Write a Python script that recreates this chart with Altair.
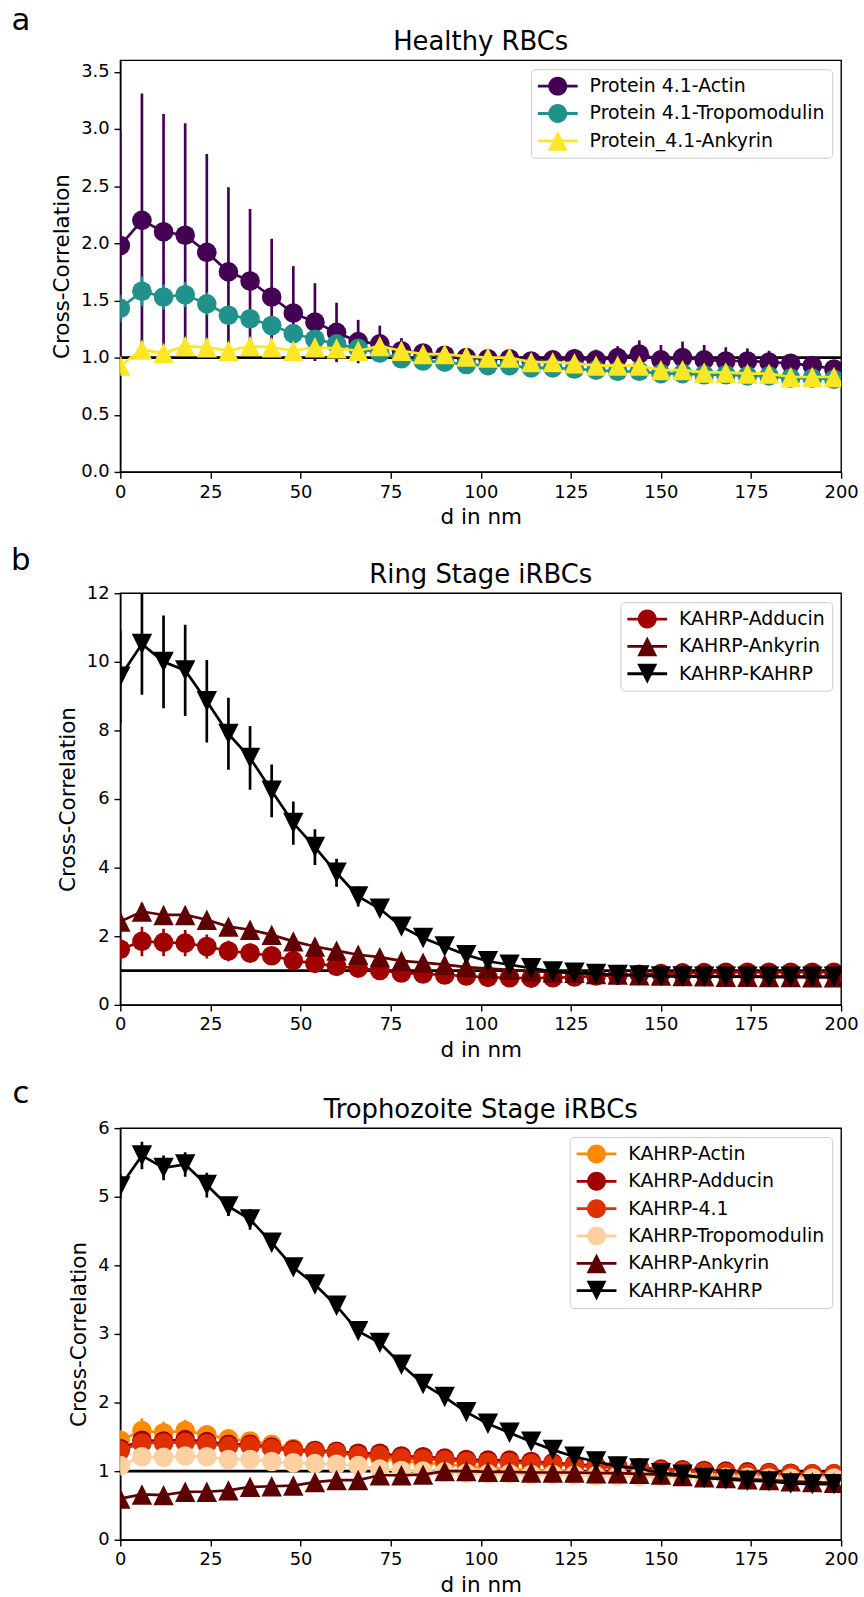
import altair as alt
import pandas as pd

FONT = "DejaVu Sans"

# distances (nm)
DIST_NM = [0, 6, 12, 18, 24, 30, 36, 42, 48, 54, 60, 66, 72, 78, 84, 90, 96,
           102, 108, 114, 120, 126, 132, 138, 144, 150, 156, 162, 168, 174,
           180, 186, 192, 198]

X_TICKS = [0, 25, 50, 75, 100, 125, 150, 175, 200]
REFERENCE_LEVEL = [1.0]

# ---------------- panel a: healthy RBCs ----------------
A_NAMES = ["Protein 4.1-Actin", "Protein 4.1-Tropomodulin", "Protein_4.1-Ankyrin"]
A_COLORS = ["#440154", "#21918c", "#fde725"]
A_MARKERS = ["circle", "circle", "up"]

A_ACTIN = [1.98, 2.20, 2.10, 2.07, 1.92, 1.75, 1.67, 1.53, 1.39, 1.31, 1.22, 1.14,
           1.12, 1.06, 1.04, 1.02, 1.00, 0.99, 0.99, 0.97, 0.98, 0.99, 0.98, 1.00,
           1.03, 0.98, 1.00, 0.98, 0.97, 0.97, 0.96, 0.95, 0.93, 0.90]
A_ACTIN_ERR = [1.00, 1.11, 1.03, 0.98, 0.86, 0.74, 0.63, 0.51, 0.41, 0.34, 0.26, 0.19,
               0.16, 0.11, 0.07, 0.06, 0.05, 0.05, 0.05, 0.05, 0.06, 0.08, 0.09, 0.10,
               0.12, 0.13, 0.14, 0.13, 0.12, 0.11, 0.10, 0.08, 0.07, 0.05]
A_TROPO = [1.43, 1.58, 1.53, 1.55, 1.47, 1.37, 1.34, 1.28, 1.21, 1.16, 1.12, 1.08,
           1.04, 0.99, 0.97, 0.96, 0.94, 0.93, 0.93, 0.91, 0.91, 0.90, 0.89, 0.88,
           0.88, 0.86, 0.86, 0.85, 0.85, 0.84, 0.84, 0.82, 0.82, 0.81]
A_TROPO_ERR = [0.12, 0.13, 0.11, 0.11, 0.10, 0.08, 0.07, 0.06, 0.05, 0.05, 0.04, 0.04,
               0.03, 0.03, 0.03, 0.03, 0.03, 0.03, 0.03, 0.03, 0.03, 0.03, 0.03, 0.03,
               0.03, 0.03, 0.03, 0.03, 0.03, 0.03, 0.03, 0.03, 0.03, 0.03]
A_ANK = [0.93, 1.07, 1.04, 1.10, 1.09, 1.06, 1.10, 1.09, 1.06, 1.09, 1.08, 1.06,
         1.10, 1.06, 1.03, 1.03, 1.01, 1.00, 1.00, 0.96, 0.96, 0.95, 0.93, 0.93,
         0.93, 0.89, 0.89, 0.87, 0.87, 0.86, 0.86, 0.83, 0.83, 0.83]
A_ANK_ERR = [0.06, 0.05, 0.05, 0.05, 0.05, 0.04, 0.04, 0.04, 0.04, 0.04, 0.04, 0.03,
             0.03, 0.03, 0.03, 0.03, 0.03, 0.03, 0.03, 0.03, 0.03, 0.03, 0.03, 0.03,
             0.03, 0.03, 0.03, 0.03, 0.03, 0.03, 0.03, 0.03, 0.03, 0.03]

# ---------------- panel b: ring stage ----------------
B_NAMES = ["KAHRP-Adducin", "KAHRP-Ankyrin", "KAHRP-KAHRP"]
B_COLORS = ["#a00000", "#600000", "#000000"]
B_MARKERS = ["circle", "up", "down"]

B_ADD = [1.62, 1.85, 1.82, 1.80, 1.70, 1.57, 1.51, 1.43, 1.29, 1.21, 1.12, 1.07,
         1.00, 0.93, 0.90, 0.87, 0.84, 0.80, 0.79, 0.78, 0.79, 0.81, 0.84, 0.86,
         0.89, 0.91, 0.93, 0.94, 0.95, 0.95, 0.95, 0.95, 0.95, 0.95]
B_ADD_ERR = [0.35, 0.43, 0.40, 0.38, 0.35, 0.30, 0.28, 0.25, 0.20, 0.18, 0.15, 0.12,
             0.10, 0.08, 0.07, 0.07, 0.06, 0.06, 0.06, 0.06, 0.06, 0.06, 0.06, 0.06,
             0.06, 0.06, 0.06, 0.06, 0.06, 0.06, 0.06, 0.06, 0.06, 0.06]
B_ANK = [2.43, 2.72, 2.62, 2.62, 2.48, 2.28, 2.19, 2.04, 1.85, 1.70, 1.58, 1.46,
         1.39, 1.28, 1.23, 1.17, 1.10, 1.06, 1.02, 0.98, 0.95, 0.93, 0.90, 0.88,
         0.86, 0.85, 0.84, 0.83, 0.82, 0.82, 0.81, 0.81, 0.80, 0.80]
B_ANK_ERR = [0.25, 0.25, 0.22, 0.20, 0.18, 0.16, 0.14, 0.12, 0.10, 0.10, 0.08, 0.07,
             0.06, 0.06, 0.05, 0.05, 0.05, 0.05, 0.05, 0.05, 0.05, 0.05, 0.05, 0.05,
             0.05, 0.05, 0.05, 0.05, 0.05, 0.05, 0.05, 0.05, 0.05, 0.05]
B_KAHRP = [9.57, 10.52, 10.0, 9.75, 8.85, 7.90, 7.20, 6.24, 5.30, 4.60, 3.85, 3.16,
           2.80, 2.28, 1.95, 1.70, 1.45, 1.27, 1.17, 1.07, 0.97, 0.94, 0.90, 0.87,
           0.86, 0.83, 0.83, 0.82, 0.82, 0.82, 0.82, 0.82, 0.82, 0.82]
B_KAHRP_ERR = [1.36, 1.48, 1.35, 1.33, 1.20, 1.05, 0.93, 0.77, 0.63, 0.52, 0.41, 0.29,
               0.16, 0.13, 0.11, 0.10, 0.08, 0.07, 0.06, 0.05, 0.05, 0.05, 0.05, 0.05,
               0.05, 0.05, 0.05, 0.05, 0.05, 0.05, 0.05, 0.05, 0.05, 0.05]

# ---------------- panel c: trophozoite stage ----------------
C_NAMES = ["KAHRP-Actin", "KAHRP-Adducin", "KAHRP-4.1", "KAHRP-Tropomodulin",
           "KAHRP-Ankyrin", "KAHRP-KAHRP"]
C_COLORS = ["#ff8a00", "#a00000", "#e03000", "#fdd0a2", "#5c0000", "#000000"]
C_MARKERS = ["circle", "circle", "circle", "circle", "up", "down"]

C_ACTIN = [1.45, 1.59, 1.56, 1.59, 1.53, 1.47, 1.44, 1.39, 1.33, 1.30, 1.27, 1.23,
           1.19, 1.15, 1.12, 1.10, 1.07, 1.05, 1.03, 1.01, 1.00, 0.99, 0.98, 0.97,
           0.96, 0.93, 0.93, 0.93, 0.93, 0.93, 0.92, 0.92, 0.92, 0.92]
C_ACTIN_ERR = [0.15, 0.18, 0.16, 0.16, 0.14, 0.12, 0.10, 0.09, 0.08, 0.07, 0.06, 0.05,
               0.05, 0.05, 0.04, 0.04, 0.04, 0.04, 0.04, 0.04, 0.04, 0.04, 0.04, 0.04,
               0.04, 0.04, 0.04, 0.04, 0.04, 0.04, 0.04, 0.04, 0.04, 0.04]
C_ADD = [1.33, 1.45, 1.44, 1.46, 1.43, 1.39, 1.39, 1.35, 1.31, 1.30, 1.29, 1.26,
         1.26, 1.22, 1.21, 1.19, 1.17, 1.16, 1.16, 1.14, 1.12, 1.10, 1.08, 1.07,
         1.05, 1.03, 1.02, 1.01, 1.00, 0.99, 0.98, 0.97, 0.96, 0.96]
C_ADD_ERR = [0.10, 0.12, 0.10, 0.10, 0.09, 0.08, 0.07, 0.06, 0.05, 0.05, 0.04, 0.04,
             0.04, 0.03, 0.03, 0.03, 0.03, 0.03, 0.03, 0.03, 0.03, 0.03, 0.03, 0.03,
             0.03, 0.03, 0.03, 0.03, 0.03, 0.03, 0.03, 0.03, 0.03, 0.03]
C_F41 = [1.30, 1.41, 1.41, 1.42, 1.40, 1.36, 1.37, 1.33, 1.29, 1.28, 1.27, 1.23,
         1.23, 1.19, 1.18, 1.16, 1.14, 1.13, 1.13, 1.11, 1.10, 1.08, 1.06, 1.05,
         1.03, 1.01, 1.00, 0.99, 0.98, 0.97, 0.97, 0.96, 0.96, 0.96]
C_F41_ERR = [0.10, 0.11, 0.10, 0.10, 0.09, 0.08, 0.07, 0.06, 0.05, 0.05, 0.04, 0.04,
             0.04, 0.03, 0.03, 0.03, 0.03, 0.03, 0.03, 0.03, 0.03, 0.03, 0.03, 0.03,
             0.03, 0.03, 0.03, 0.03, 0.03, 0.03, 0.03, 0.03, 0.03, 0.03]
C_TROPO = [1.08, 1.21, 1.20, 1.22, 1.21, 1.17, 1.17, 1.14, 1.12, 1.11, 1.10, 1.08,
           1.03, 1.01, 1.00, 0.99, 0.97, 0.96, 0.96, 0.95, 0.95, 0.94, 0.93, 0.93,
           0.92, 0.92, 0.92, 0.91, 0.91, 0.91, 0.90, 0.90, 0.90, 0.90]
C_TROPO_ERR = [0.10, 0.11, 0.10, 0.10, 0.09, 0.08, 0.07, 0.06, 0.05, 0.05, 0.04, 0.04,
               0.04, 0.03, 0.03, 0.03, 0.03, 0.03, 0.03, 0.03, 0.03, 0.03, 0.03, 0.03,
               0.03, 0.03, 0.03, 0.03, 0.03, 0.03, 0.03, 0.03, 0.03, 0.03]
C_ANK = [0.60, 0.66, 0.65, 0.70, 0.70, 0.72, 0.77, 0.78, 0.79, 0.84, 0.87, 0.87,
         0.94, 0.94, 0.95, 1.00, 1.00, 0.99, 0.99, 0.98, 0.98, 0.98, 0.97, 0.97,
         0.96, 0.95, 0.93, 0.91, 0.90, 0.88, 0.87, 0.85, 0.84, 0.83]
C_ANK_ERR = [0.05, 0.05, 0.05, 0.05, 0.05, 0.04, 0.04, 0.04, 0.04, 0.04, 0.04, 0.04,
             0.03, 0.03, 0.03, 0.03, 0.03, 0.03, 0.03, 0.03, 0.03, 0.03, 0.03, 0.03,
             0.03, 0.03, 0.03, 0.03, 0.03, 0.03, 0.03, 0.03, 0.03, 0.03]
C_KAHRP = [5.15, 5.60, 5.42, 5.47, 5.17, 4.86, 4.67, 4.33, 3.97, 3.72, 3.41, 3.04,
           2.87, 2.55, 2.27, 2.08, 1.86, 1.69, 1.56, 1.43, 1.31, 1.21, 1.14, 1.07,
           1.04, 0.97, 0.95, 0.90, 0.88, 0.86, 0.85, 0.82, 0.81, 0.81]
C_KAHRP_ERR = [0.18, 0.20, 0.18, 0.18, 0.18, 0.14, 0.15, 0.12, 0.10, 0.08, 0.07, 0.06,
               0.05, 0.05, 0.05, 0.04, 0.04, 0.04, 0.04, 0.04, 0.04, 0.04, 0.04, 0.04,
               0.04, 0.04, 0.04, 0.04, 0.04, 0.04, 0.04, 0.04, 0.04, 0.04]

# ---------------- styling helpers ----------------
MARK_PATHS = {"circle": "circle",
              "up": "M0,-1L1,1L-1,1Z",
              "down": "M0,1L-1,-1L1,-1Z"}
MARK_SIZES = {"circle": 390, "up": 420, "down": 420}
BAR = "M-2,-0.14L2,-0.14L2,0.14L-2,0.14Z "
LEGEND_PATHS = {"circle": BAR + "M0.95,0A0.95,0.95 0 1,1 -0.95,0A0.95,0.95 0 1,1 0.95,0Z",
                "up": BAR + "M0,-1L1,1L-1,1Z",
                "down": BAR + "M0,1L-1,-1L1,-1Z"}

W, H = 725, 414
LW = 2.7


def make_panel(title, letter, letter_y, names, colors, markers, values, errors,
               y_max, y_ticks, y_fmt):
    xs = alt.Scale(domain=[0, 200], nice=False, zero=False)
    ys = alt.Scale(domain=[0, y_max], nice=False, zero=False)
    x_axis = alt.Axis(values=X_TICKS, title="d in nm", format="d")
    y_axis = alt.Axis(values=y_ticks, title="Cross-Correlation", format=y_fmt)

    def X(field):
        return alt.X(field, type="quantitative", scale=xs, axis=x_axis)

    def Y(field):
        return alt.Y(field, type="quantitative", scale=ys, axis=y_axis)

    ref = alt.Chart(pd.DataFrame({"y": REFERENCE_LEVEL})).mark_rule(
        color="black", strokeWidth=LW).encode(y=Y("y"))
    layers = [ref]
    frames = []
    for name, col, mk, vals, errs in zip(names, colors, markers, values, errors):
        df = pd.DataFrame({"d": DIST_NM, "v": vals, "e": errs, "series": name})
        frames.append(df)
        base = alt.Chart(df).transform_calculate(lo="datum.v - datum.e",
                                                 hi="datum.v + datum.e")
        err = base.mark_rule(color=col, strokeWidth=LW, clip=True).encode(
            x=X("d"), y=Y("lo"), y2="hi:Q")
        line = base.mark_line(color=col, strokeWidth=LW, clip=True).encode(
            x=X("d"), y=Y("v"))
        pts = base.mark_point(filled=True, opacity=1, color=col, shape=MARK_PATHS[mk],
                              size=MARK_SIZES[mk], clip=True).encode(
            x=X("d"), y=Y("v"))
        layers += [err, line, pts]

    all_df = pd.concat(frames, ignore_index=True)
    leg_props = dict(title=None, orient="top-right", offset=9, padding=7,
                     strokeColor="#cccccc", fillColor="rgba(255,255,255,0.8)",
                     cornerRadius=4, labelFont=FONT, labelFontSize=19,
                     labelColor="black", symbolSize=400, symbolStrokeWidth=0,
                     symbolOffset=10, labelOffset=22, rowPadding=7.5,
                     symbolOpacity=1, labelLimit=0)
    legend_layer = alt.Chart(all_df).mark_point(filled=True, opacity=0).encode(
        x=X("d"), y=Y("v"),
        color=alt.Color("series:N", scale=alt.Scale(domain=names, range=colors),
                        legend=alt.Legend(**leg_props)),
        shape=alt.Shape("series:N",
                        scale=alt.Scale(domain=names,
                                        range=[LEGEND_PATHS[m] for m in markers]),
                        legend=alt.Legend(**leg_props)))
    layers.append(legend_layer)

    letter_layer = alt.Chart(pd.DataFrame({"t": [letter]})).mark_text(
        font=FONT, fontSize=31, align="center", baseline="alphabetic",
        color="black").encode(text="t:N", x=alt.value(-100), y=alt.value(letter_y))
    title_layer = alt.Chart(pd.DataFrame({"t": [title]})).mark_text(
        font=FONT, fontSize=26, align="center", baseline="alphabetic",
        color="black").encode(text="t:N", x=alt.value(W / 2), y=alt.value(-10))
    layers += [letter_layer, title_layer]

    return alt.layer(*layers).properties(width=W, height=H)


pa = make_panel("Healthy RBCs", "a", -30, A_NAMES, A_COLORS, A_MARKERS,
                [A_ACTIN, A_TROPO, A_ANK], [A_ACTIN_ERR, A_TROPO_ERR, A_ANK_ERR],
                3.6, [0, 0.5, 1.0, 1.5, 2.0, 2.5, 3.0, 3.5], ".1f")
pb = make_panel("Ring Stage iRBCs", "b", -23, B_NAMES, B_COLORS, B_MARKERS,
                [B_ADD, B_ANK, B_KAHRP], [B_ADD_ERR, B_ANK_ERR, B_KAHRP_ERR],
                12, [0, 2, 4, 6, 8, 10, 12], "d")
pc = make_panel("Trophozoite Stage iRBCs", "c", -25, C_NAMES, C_COLORS, C_MARKERS,
                [C_ACTIN, C_ADD, C_F41, C_TROPO, C_ANK, C_KAHRP],
                [C_ACTIN_ERR, C_ADD_ERR, C_F41_ERR, C_TROPO_ERR, C_ANK_ERR, C_KAHRP_ERR],
                6, [0, 1, 2, 3, 4, 5, 6], "d")

lower = alt.vconcat(pb, pc, spacing=124, bounds="flush").resolve_scale(
    x="independent", y="independent", color="independent", shape="independent")
chart = alt.vconcat(pa, lower, spacing=122, bounds="flush").resolve_scale(
    x="independent", y="independent", color="independent", shape="independent"
).properties(
    padding={"left": 10, "top": 0, "right": 5, "bottom": 5}
).configure_view(stroke="black", strokeWidth=1.4).configure_axis(
    labelFont=FONT, labelFontSize=18, labelColor="black", labelPadding=5,
    labelFlush=False, labelOverlap=False,
    titleFont=FONT, titleFontSize=21.6, titleFontWeight="normal", titleColor="black",
    tickSize=6.3, tickWidth=1.4, tickColor="black",
    domainColor="black", domainWidth=1.4, grid=False
).configure_axisX(titlePadding=6).configure_axisY(titlePadding=7)

chart.save("out.html", embed_options={"renderer": "svg", "actions": False})
